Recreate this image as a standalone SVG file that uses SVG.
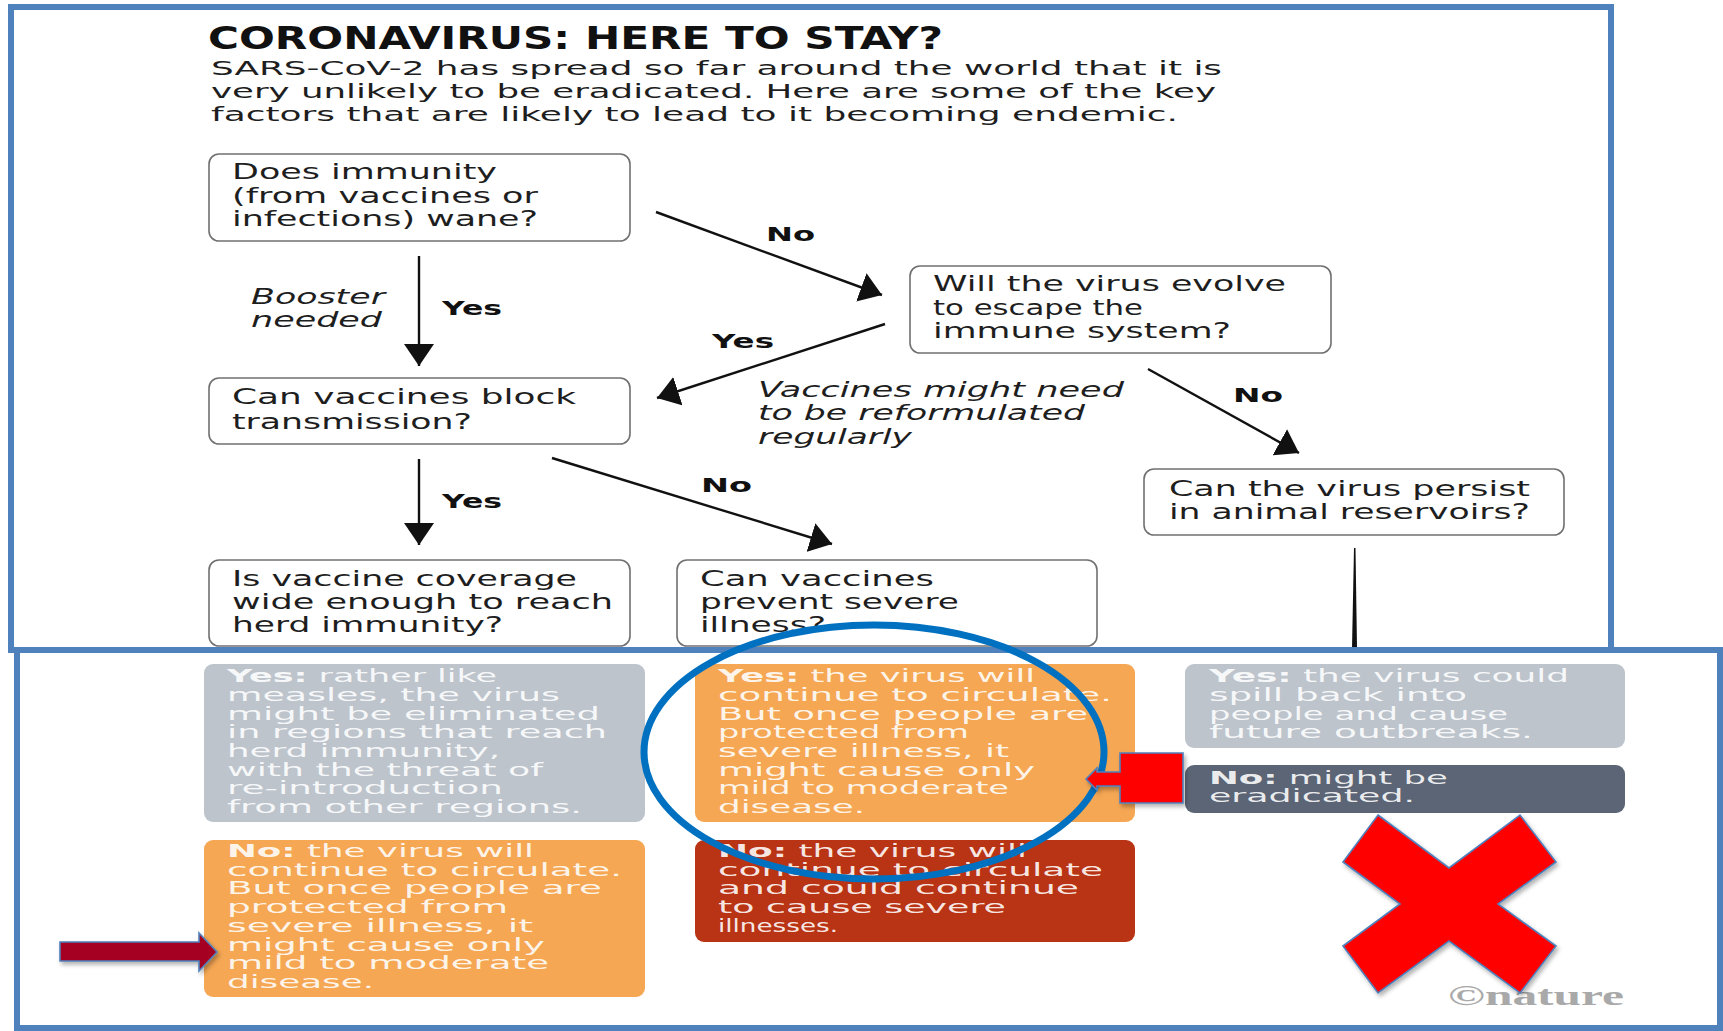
<svg xmlns="http://www.w3.org/2000/svg" width="1723" height="1031" viewBox="0 0 1723 1031">
<defs>
<style>
.frame{fill:#fff;stroke:#4F81BD;stroke-width:6}
.q{fill:#fff;stroke:#707070;stroke-width:1.6}
.t{font-family:'DejaVu Sans','Liberation Sans',sans-serif;font-size:21px;fill:#1e1e1e}
.sub{font-family:'DejaVu Sans','Liberation Sans',sans-serif;font-size:20px;fill:#1e1e1e}
.it{font-style:italic}
.lbl{font-family:'DejaVu Sans','Liberation Sans',sans-serif;font-size:20px;font-weight:bold;fill:#111}
.ans{font-family:'DejaVu Sans','Liberation Sans',sans-serif;font-size:17px;fill:#fff;fill-opacity:0.9}
.b{font-weight:bold}
.conn{stroke:#111;stroke-width:2.4;fill:none;marker-end:url(#ah)}
.grey{fill:#BDC4CC}
.orange{fill:#F5A754}
.red{fill:#B93414}
.dark{fill:#5B6575}
.shape{stroke:#4F81BD;stroke-width:1.6}
</style>
<marker id="ah" viewBox="0 0 22 30" refX="22" refY="15" markerWidth="22" markerHeight="30" markerUnits="userSpaceOnUse" orient="auto">
<path d="M0,0 L22,15 L0,30 z" fill="#111"/>
</marker>
<filter id="sh" x="-10%" y="-10%" width="130%" height="130%">
<feDropShadow dx="2" dy="3" stdDeviation="2" flood-color="#000" flood-opacity="0.3"/>
</filter>
</defs>

<rect class="frame" x="11" y="7" width="1600" height="643"/>

<g id="title">
<text x="208" y="49" font-family="'Liberation Sans Narrow','DejaVu Sans Condensed','Liberation Sans',sans-serif" font-weight="900" font-size="32" fill="#111" textLength="735" lengthAdjust="spacingAndGlyphs">CORONAVIRUS: HERE TO STAY?</text>
<text class="sub" x="211" y="75" textLength="1011" lengthAdjust="spacingAndGlyphs">SARS-CoV-2 has spread so far around the world that it is</text>
<text class="sub" x="211" y="98" textLength="1005" lengthAdjust="spacingAndGlyphs">very unlikely to be eradicated. Here are some of the key</text>
<text class="sub" x="211" y="121" textLength="967" lengthAdjust="spacingAndGlyphs">factors that are likely to lead to it becoming endemic.</text>
</g>

<g id="q-immunity">
<rect class="q" x="209" y="154" width="421" height="87" rx="10"/>
<text class="t" x="232" y="179" textLength="265" lengthAdjust="spacingAndGlyphs">Does immunity</text>
<text class="t" x="232" y="203" textLength="306" lengthAdjust="spacingAndGlyphs">(from vaccines or</text>
<text class="t" x="232" y="226" textLength="306" lengthAdjust="spacingAndGlyphs">infections) wane?</text>
</g>

<g id="q-evolve">
<rect class="q" x="910" y="266" width="421" height="87" rx="10"/>
<text class="t" x="933" y="291" textLength="353" lengthAdjust="spacingAndGlyphs">Will the virus evolve</text>
<text class="t" x="933" y="315" textLength="210" lengthAdjust="spacingAndGlyphs">to escape the</text>
<text class="t" x="933" y="338" textLength="298" lengthAdjust="spacingAndGlyphs">immune system?</text>
</g>

<g id="q-block">
<rect class="q" x="209" y="378" width="421" height="66" rx="10"/>
<text class="t" x="232" y="404" textLength="344" lengthAdjust="spacingAndGlyphs">Can vaccines block</text>
<text class="t" x="232" y="429" textLength="240" lengthAdjust="spacingAndGlyphs">transmission?</text>
</g>

<g id="q-animal">
<rect class="q" x="1144" y="469" width="420" height="66" rx="10"/>
<text class="t" x="1169" y="496" textLength="361" lengthAdjust="spacingAndGlyphs">Can the virus persist</text>
<text class="t" x="1169" y="519" textLength="361" lengthAdjust="spacingAndGlyphs">in animal reservoirs?</text>
</g>

<g id="q-herd">
<rect class="q" x="209" y="560" width="421" height="86" rx="10"/>
<text class="t" x="232" y="586" textLength="345" lengthAdjust="spacingAndGlyphs">Is vaccine coverage</text>
<text class="t" x="232" y="609" textLength="381" lengthAdjust="spacingAndGlyphs">wide enough to reach</text>
<text class="t" x="232" y="632" textLength="271" lengthAdjust="spacingAndGlyphs">herd immunity?</text>
</g>

<g id="q-severe">
<rect class="q" x="677" y="560" width="420" height="86" rx="10"/>
<text class="t" x="700" y="586" textLength="234" lengthAdjust="spacingAndGlyphs">Can vaccines</text>
<text class="t" x="700" y="609" textLength="259" lengthAdjust="spacingAndGlyphs">prevent severe</text>
<text class="t" x="700" y="632" textLength="126" lengthAdjust="spacingAndGlyphs">illness?</text>
</g>

<g id="connectors">
<line class="conn" x1="419" y1="256" x2="419" y2="366"/>
<line class="conn" x1="656" y1="212" x2="882" y2="295"/>
<line class="conn" x1="885" y1="324" x2="657" y2="398"/>
<line class="conn" x1="1148" y1="369" x2="1299" y2="453"/>
<line class="conn" x1="419" y1="459" x2="419" y2="545"/>
<line class="conn" x1="552" y1="458" x2="832" y2="544"/>
<polygon points="1354,548 1355.5,548 1357,648 1352,648" fill="#111"/>
<text class="t it" x="251" y="304" textLength="134" lengthAdjust="spacingAndGlyphs">Booster</text>
<text class="t it" x="251" y="327" textLength="131" lengthAdjust="spacingAndGlyphs">needed</text>
<text class="lbl" x="442" y="315" textLength="60" lengthAdjust="spacingAndGlyphs">Yes</text>
<text class="lbl" x="766" y="241" textLength="49" lengthAdjust="spacingAndGlyphs">No</text>
<text class="lbl" x="712" y="348" textLength="62" lengthAdjust="spacingAndGlyphs">Yes</text>
<text class="t it" x="758" y="397" textLength="366" lengthAdjust="spacingAndGlyphs">Vaccines might need</text>
<text class="t it" x="758" y="420" textLength="327" lengthAdjust="spacingAndGlyphs">to be reformulated</text>
<text class="t it" x="758" y="444" textLength="154" lengthAdjust="spacingAndGlyphs">regularly</text>
<text class="lbl" x="1233" y="402" textLength="50" lengthAdjust="spacingAndGlyphs">No</text>
<text class="lbl" x="442" y="508" textLength="60" lengthAdjust="spacingAndGlyphs">Yes</text>
<text class="lbl" x="701" y="492" textLength="51" lengthAdjust="spacingAndGlyphs">No</text>
</g>

<rect class="frame" x="17" y="650" width="1703" height="378"/>

<g id="a-herd-yes">
<rect class="grey" x="204" y="664" width="441" height="158" rx="9"/>
<text class="ans" x="227" y="682" textLength="270" lengthAdjust="spacingAndGlyphs"><tspan class="b">Yes:</tspan> rather like</text>
<text class="ans" x="227" y="701" textLength="333" lengthAdjust="spacingAndGlyphs">measles, the virus</text>
<text class="ans" x="227" y="720" textLength="373" lengthAdjust="spacingAndGlyphs">might be eliminated</text>
<text class="ans" x="227" y="738" textLength="380" lengthAdjust="spacingAndGlyphs">in regions that reach</text>
<text class="ans" x="227" y="757" textLength="273" lengthAdjust="spacingAndGlyphs">herd immunity,</text>
<text class="ans" x="227" y="776" textLength="316" lengthAdjust="spacingAndGlyphs">with the threat of</text>
<text class="ans" x="227" y="794" textLength="276" lengthAdjust="spacingAndGlyphs">re-introduction</text>
<text class="ans" x="227" y="813" textLength="355" lengthAdjust="spacingAndGlyphs">from other regions.</text>
</g>

<g id="a-severe-yes">
<rect class="orange" x="695" y="664" width="440" height="158" rx="9"/>
<text class="ans" x="718" y="682" textLength="317" lengthAdjust="spacingAndGlyphs"><tspan class="b">Yes:</tspan> the virus will</text>
<text class="ans" x="718" y="701" textLength="394" lengthAdjust="spacingAndGlyphs">continue to circulate.</text>
<text class="ans" x="718" y="720" textLength="370" lengthAdjust="spacingAndGlyphs">But once people are</text>
<text class="ans" x="718" y="738" textLength="251" lengthAdjust="spacingAndGlyphs">protected from</text>
<text class="ans" x="718" y="757" textLength="291" lengthAdjust="spacingAndGlyphs">severe illness, it</text>
<text class="ans" x="718" y="776" textLength="317" lengthAdjust="spacingAndGlyphs">might cause only</text>
<text class="ans" x="718" y="794" textLength="291" lengthAdjust="spacingAndGlyphs">mild to moderate</text>
<text class="ans" x="718" y="813" textLength="147" lengthAdjust="spacingAndGlyphs">disease.</text>
</g>

<g id="a-animal-yes">
<rect class="grey" x="1185" y="664" width="440" height="84" rx="9"/>
<text class="ans" x="1209" y="682" textLength="360" lengthAdjust="spacingAndGlyphs"><tspan class="b">Yes:</tspan> the virus could</text>
<text class="ans" x="1209" y="701" textLength="258" lengthAdjust="spacingAndGlyphs">spill back into</text>
<text class="ans" x="1209" y="720" textLength="299" lengthAdjust="spacingAndGlyphs">people and cause</text>
<text class="ans" x="1209" y="738" textLength="324" lengthAdjust="spacingAndGlyphs">future outbreaks.</text>
</g>

<g id="a-animal-no">
<rect class="dark" x="1185" y="765" width="440" height="48" rx="9"/>
<text class="ans" x="1209" y="784" textLength="239" lengthAdjust="spacingAndGlyphs"><tspan class="b">No:</tspan> might be</text>
<text class="ans" x="1209" y="802" textLength="206" lengthAdjust="spacingAndGlyphs">eradicated.</text>
</g>

<g id="a-herd-no">
<rect class="orange" x="204" y="840" width="441" height="157" rx="9"/>
<text class="ans" x="227" y="857" textLength="307" lengthAdjust="spacingAndGlyphs"><tspan class="b">No:</tspan> the virus will</text>
<text class="ans" x="227" y="876" textLength="395" lengthAdjust="spacingAndGlyphs">continue to circulate.</text>
<text class="ans" x="227" y="894" textLength="375" lengthAdjust="spacingAndGlyphs">But once people are</text>
<text class="ans" x="227" y="913" textLength="281" lengthAdjust="spacingAndGlyphs">protected from</text>
<text class="ans" x="227" y="932" textLength="306" lengthAdjust="spacingAndGlyphs">severe illness, it</text>
<text class="ans" x="227" y="951" textLength="318" lengthAdjust="spacingAndGlyphs">might cause only</text>
<text class="ans" x="227" y="969" textLength="322" lengthAdjust="spacingAndGlyphs">mild to moderate</text>
<text class="ans" x="227" y="988" textLength="147" lengthAdjust="spacingAndGlyphs">disease.</text>
</g>

<g id="a-severe-no">
<rect class="red" x="695" y="840" width="440" height="102" rx="9"/>
<text class="ans" x="718" y="857" textLength="309" lengthAdjust="spacingAndGlyphs"><tspan class="b">No:</tspan> the virus will</text>
<text class="ans" x="718" y="876" textLength="385" lengthAdjust="spacingAndGlyphs">continue to circulate</text>
<text class="ans" x="718" y="894" textLength="361" lengthAdjust="spacingAndGlyphs">and could continue</text>
<text class="ans" x="718" y="913" textLength="288" lengthAdjust="spacingAndGlyphs">to cause severe</text>
<text class="ans" x="718" y="932" textLength="120" lengthAdjust="spacingAndGlyphs">illnesses.</text>
</g>

<text x="1448" y="1005" font-family="'Liberation Serif',serif" font-weight="bold" font-size="27" fill="#A9A9A9" textLength="176" lengthAdjust="spacingAndGlyphs">©nature</text>

<g id="annotations">
<ellipse cx="874" cy="752" rx="230" ry="127" fill="none" stroke="#0070C0" stroke-width="7"/>
<polygon class="shape" filter="url(#sh)" fill="#FF0000" points="1086,779 1097,768 1097,772 1120,772 1120,753 1183,753 1183,803 1120,803 1120,786 1097,786 1097,790"/>
<polygon class="shape" filter="url(#sh)" fill="#A50021" points="60,942 199,942 199,933 217,952 199,971 199,961 60,961"/>
<polygon class="shape" filter="url(#sh)" fill="#FF0000" points="1378,815 1449,868 1520,815 1556,862 1498,904 1556,946 1520,993 1449,941 1378,993 1343,946 1400,904 1343,862"/>
</g>
</svg>
